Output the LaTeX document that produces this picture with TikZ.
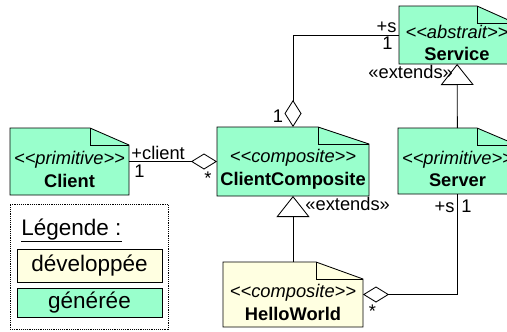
\documentclass[tikz,border=0pt]{standalone}
\usepackage{fontspec}
\setmainfont{Liberation Sans}[Ligatures=TeXOff]
\usetikzlibrary{arrows.meta}
\definecolor{gen}{RGB}{153,255,204}
\definecolor{dev}{RGB}{255,255,225}
\newcommand{\stereo}[1]{\textit{<<#1>>}}
\newcommand{\foldnote}[3][45]{%
  \filldraw[fill=#3] (#2.north west) -- ([xshift=-#1pt]#2.north east) -- ([yshift=-17pt]#2.north east) -- (#2.south east) -- (#2.south west) -- cycle;
  \draw ([xshift=-#1pt]#2.north east) |- ([yshift=-17pt]#2.north east);}
\tikzset{
  box/.style={inner sep=0pt, outer sep=0pt},
  cls/.style={align=center, inner sep=0pt},
  lbl/.style={inner sep=0pt},
  agg/.style={-{Diamond[open, length=26pt, width=16pt]}},
  ext/.style={-{Triangle[open, length=21pt, width=33pt]}},
  legbox/.style={draw, inner sep=0pt, minimum width=145pt, font=\fontsize{22.5}{26}\selectfont}
}
\begin{document}
\begin{tikzpicture}[x=1pt, y=-1pt, line width=0.85pt, font=\fontsize{18.3}{22.5}\selectfont]
\useasboundingbox (0,0) rectangle (507,332);
\node[box, minimum width=119pt, minimum height=67pt] (client) at (69.5,161.5) {};
\foldnote[39]{client}{gen}
\node[cls] (client-txt) at ([yshift=-8pt]client.center) {\stereo{primitive}\\\textbf{Client}};
\node[box, minimum width=152pt, minimum height=69pt] (cc) at (293,161.5) {};
\foldnote[51]{cc}{gen}
\node[cls] (cc-txt) at ([yshift=-8pt]cc.center) {\stereo{composite}\\\textbf{ClientComposite}};
\node[box, minimum width=116pt, minimum height=58pt] (service) at (457,35) {};
\foldnote[38]{service}{gen}
\node[cls] (service-txt) at ([yshift=-8pt]service.center) {\stereo{abstrait}\\\textbf{Service}};
\node[box, minimum width=119pt, minimum height=66pt] (server) at (457.5,161) {};
\foldnote[40]{server}{gen}
\node[cls] (server-txt) at ([yshift=-8pt]server.center) {\stereo{primitive}\\\textbf{Server}};
\node[box, minimum width=140pt, minimum height=65pt] (hw) at (293,294.5) {};
\foldnote[47]{hw}{dev}
\node[cls] (hw-txt) at ([yshift=-8pt]hw.center) {\stereo{composite}\\\textbf{HelloWorld}};
\draw[agg] (client) -- (cc);
\draw[agg] (server.south) |- (hw.east);
\draw[{Diamond[open, length=27pt, width=17pt]}-] (cc.north) |- (service.west);
\draw[ext] (hw) -- (cc);
\draw[ext] (server) -- (service);
\node[lbl, anchor=base west] (client-role) at (131,159) {+client};
\node[lbl, anchor=base west] (client-mult) at (134,177) {1};
\node[lbl, anchor=base west] (cc-mult) at (204,184.5) {*};
\node[lbl, anchor=base east] (cc-top-mult) at (283.5,122) {1};
\node[lbl, anchor=base east] (service-role) at (397,32) {+s};
\node[lbl, anchor=base east] (service-mult) at (393,49) {1};
\node[lbl, anchor=base west] (service-ext) at (368,78) {«extends»};
\node[lbl, anchor=base west] (cc-ext) at (305,210) {«extends»};
\node[lbl, anchor=base east] (server-role) at (455,212) {+s};
\node[lbl, anchor=base west] (server-mult) at (461,212) {1};
\node[lbl, anchor=base west] (hw-mult) at (368.5,317.5) {*};
\node[draw, densely dotted, minimum width=158pt, minimum height=125pt, inner sep=0pt] (legend) at (89,266.5) {};
\node[lbl, anchor=base west, font=\fontsize{22.5}{26}\selectfont] (legend-title) at (21,235) {\underline{Légende :}};
\node[legbox, fill=dev, minimum height=33pt] (leg-dev) at (89.5,265.5) {développée};
\node[legbox, fill=gen, minimum height=29pt] (leg-gen) at (89.5,302.5) {générée};
\end{tikzpicture}
\end{document}
